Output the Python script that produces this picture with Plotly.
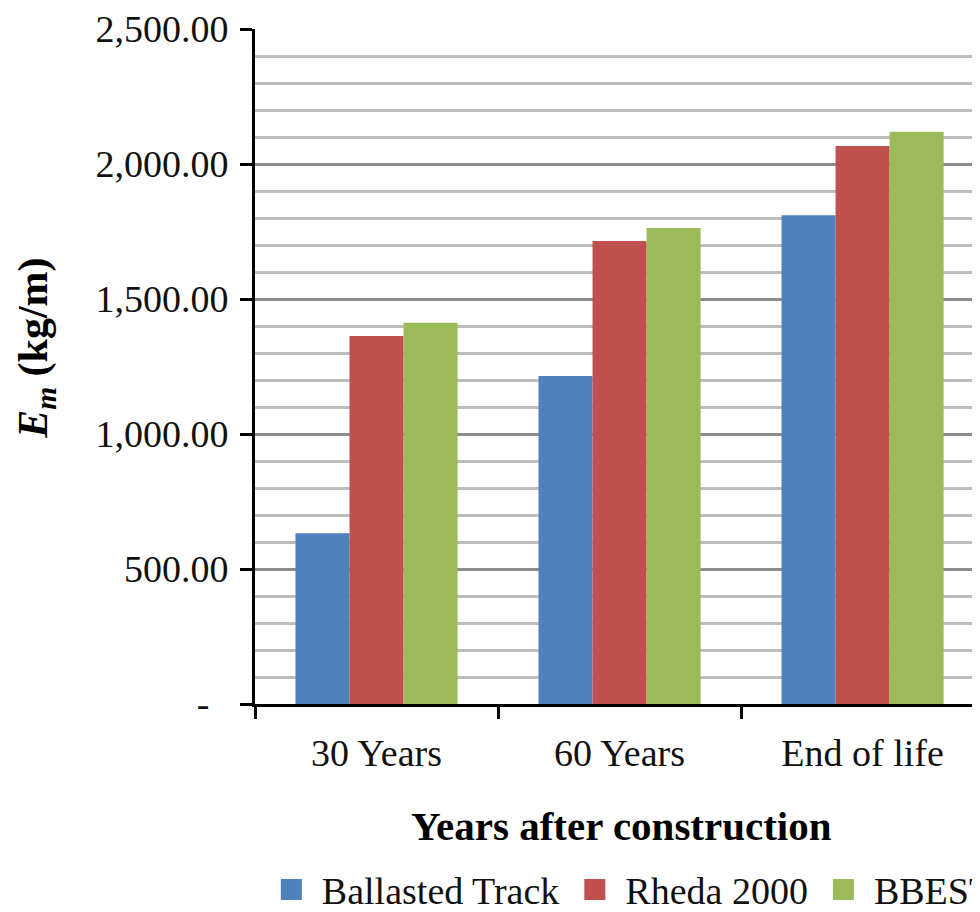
import plotly.graph_objects as go

# Data
categories = ['30 Years', '60 Years', 'End of life']
ballasted = [632, 1215, 1810]
rheda = [1363, 1715, 2067]
bbest = [1412, 1763, 2119]

series_names = ['Ballasted Track', 'Rheda 2000', 'BBEST']
series_colors = ['#4F81BD', '#C0504D', '#9BBB59']

y_tickvals = [0, 500, 1000, 1500, 2000, 2500]
y_ticktext = ['-\u00a0\u00a0', '500.00', '1,000.00', '1,500.00', '2,000.00', '2,500.00']

FONT = 'Liberation Serif, Times New Roman, serif'

fig = go.Figure()

for name, vals, col in zip(series_names, [ballasted, rheda, bbest], series_colors):
    fig.add_trace(go.Bar(
        x=categories,
        y=vals,
        name=name,
        marker=dict(color=col, line=dict(width=0)),
        showlegend=False
    ))
    # legend entry with a bigger square
    fig.add_trace(go.Scatter(
        x=[None], y=[None], mode='markers', name=name,
        marker=dict(symbol='square', color=col, size=16,
                    line=dict(color=col, width=5))
    ))

# the page body adds an 8px offset, margins are set to compensate
fig.update_layout(
    width=980,
    height=912,
    margin=dict(l=247, r=0, t=21, b=216),
    plot_bgcolor='white',
    paper_bgcolor='white',
    barmode='group',
    bargap=0.333,
    bargroupgap=0,
    font=dict(family=FONT, size=38, color='#111111'),
    legend=dict(
        orientation='h',
        xref='container', yref='container',
        x=0.258, y=0.033,
        xanchor='left', yanchor='middle',
        font=dict(size=38),
        itemsizing='trace',
        itemwidth=51,
        tracegroupgap=0,
    ),
    xaxis=dict(
        range=[-0.5, 2.516],
        showline=True, linecolor='black', linewidth=3,
        ticks='outside', ticklen=12, tickwidth=3, tickcolor='black',
        tickson='boundaries',
        showgrid=False,
        ticklabelstandoff=13,
    ),
    yaxis=dict(
        range=[0, 2500],
        tickvals=y_tickvals,
        ticktext=y_ticktext,
        showline=True, linecolor='black', linewidth=3,
        ticks='outside', ticklen=12, tickwidth=3, tickcolor='black',
        showgrid=True, gridcolor='#8c8c8c', gridwidth=3,
        minor=dict(dtick=100, showgrid=True, gridcolor='#bdbdbd', gridwidth=2.5, ticks=''),
        zeroline=False,
        ticklabelstandoff=4,
    ),
)

# axis titles
fig.add_annotation(
    text='<b>Years after construction</b>',
    xref='paper', yref='paper', x=0.5, y=-0.181,
    xanchor='center', yanchor='middle', showarrow=False,
    font=dict(size=41, family=FONT, color='black')
)
fig.add_annotation(
    text='<b><i>E<sub>m</sub></i> (kg/m)</b>',
    xref='paper', yref='paper', x=-0.298, y=0.527,
    xanchor='center', yanchor='middle', showarrow=False, textangle=-90,
    font=dict(size=42, family=FONT, color='black')
)

fig.write_html('out.html')
